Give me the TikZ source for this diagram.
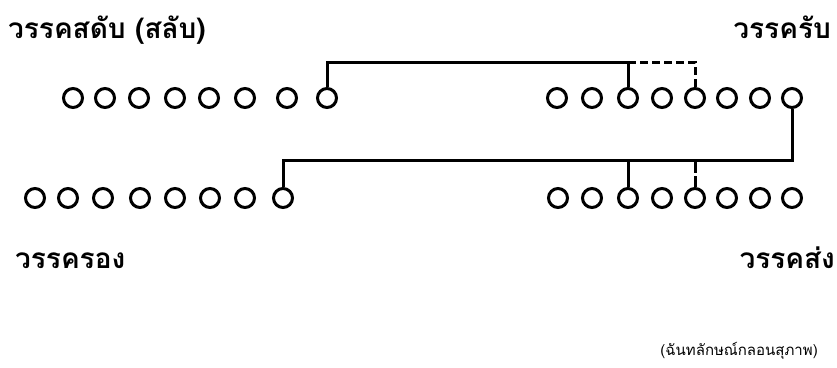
\documentclass[tikz,border=0pt]{standalone}
\usepackage{fontspec}
\newfontfamily\thaifont[Script=Thai]{Loma}
\begin{document}
\begin{tikzpicture}[x=1pt,y=-1pt,
  syl/.style={circle,draw,line width=3pt,minimum size=19pt,inner sep=0pt},
  conn/.style={line width=3pt},
  lbl/.style={font=\thaifont\bfseries\fontsize{28}{32}\selectfont,inner sep=0pt,anchor=base west},
  note/.style={font=\thaifont\fontsize{15}{18}\selectfont,inner sep=0pt,anchor=base east}]
\useasboundingbox (0,0) rectangle (837,367);
% rows
\foreach \i/\x in {1/73,2/105,3/139,4/175,5/209,6/245,7/287,8/327}
  \node[syl] (a\i) at (\x,98) {};
\foreach \i/\x in {1/557,2/592,3/628,4/662,5/695,6/727,7/760,8/792}
  \node[syl] (b\i) at (\x,98) {};
\foreach \i/\x in {1/35,2/68,3/103,4/140,5/175,6/210,7/245,8/283}
  \node[syl] (c\i) at (\x,198) {};
\foreach \i/\x in {1/558,2/592,3/628,4/662,5/695,6/727,7/760,8/792}
  \node[syl] (d\i) at (\x,198) {};
% labels
\node[lbl] (l1) at (8,38) {วรรคสดับ (สลับ)};
\node[lbl,anchor=base east] (l2) at (831,38) {วรรครับ};
\node[lbl] (l3) at (15,268) {วรรครอง};
\node[lbl,anchor=base east] (l4) at (835,268) {วรรคส่ง};
\node[note] (l5) at (818,355) {(ฉันทลักษณ์กลอนสุภาพ)};
% connectors
\coordinate (ht) at (0,62);
\coordinate (hb) at (0,160);
\draw[conn] (a8.north) -- (a8 |- ht) -- (b3 |- ht) -- (b3.north);
\draw[conn,dash pattern=on 8pt off 4pt] (b3 |- ht) -- (b5 |- ht) -- (b5.north);
\draw[conn] (b8.south) -- (b8 |- hb) -- (c8 |- hb) -- (c8.north);
\draw[conn] (d3 |- hb) -- (d3.north);
\draw[conn,dash pattern=on 13pt off 3pt] (d5 |- hb) -- (d5.north);
\end{tikzpicture}
\end{document}
